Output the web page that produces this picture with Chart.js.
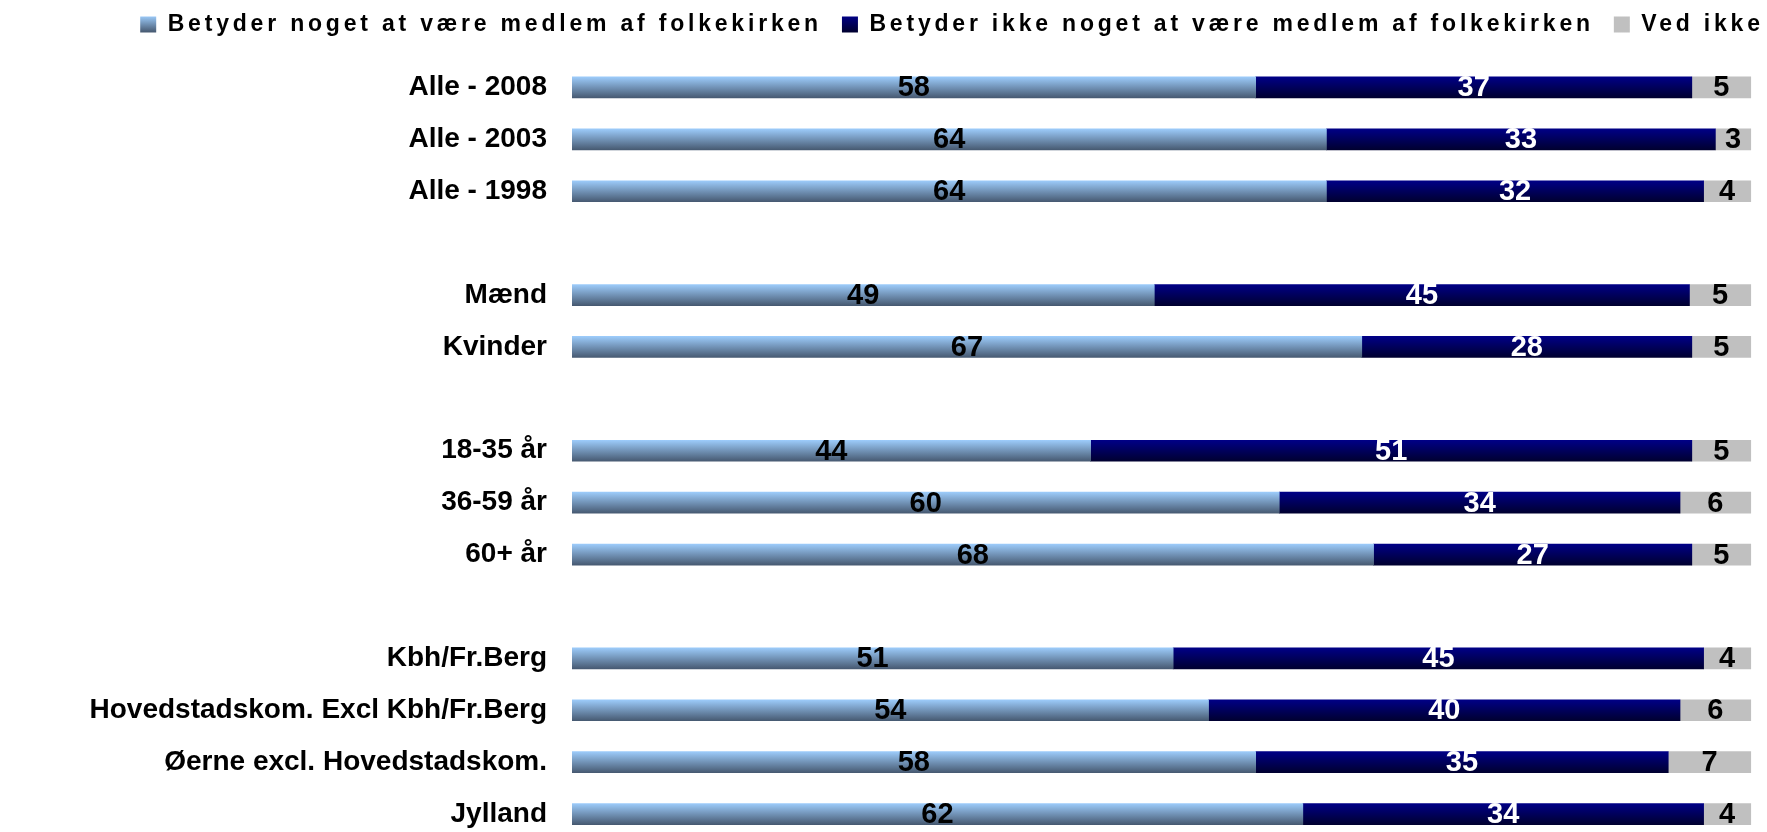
<!DOCTYPE html>
<html>
<head>
<meta charset="utf-8">
<script src="https://cdn.jsdelivr.net/npm/chart.js"></script>
<style>
  html, body { margin: 0; padding: 0; background: #fff; overflow: hidden; }
  canvas { display: block; }
</style>
</head>
<body>
<canvas id="chart" width="1904" height="840"></canvas>
<script>
// categories, blank entries are the gaps between the groups
const categories = [
  'Alle - 2008', 'Alle - 2003', 'Alle - 1998', '',
  'Mænd', 'Kvinder', '',
  '18-35 år', '36-59 år', '60+ år', '',
  'Kbh/Fr.Berg', 'Hovedstadskom. Excl Kbh/Fr.Berg', 'Øerne excl. Hovedstadskom.', 'Jylland'
];
const seriesNames = [
  'Betyder noget at være medlem af folkekirken',
  'Betyder ikke noget at være medlem af folkekirken',
  'Ved ikke'
];
const noget   = [58, 64, 64, null, 49.4, 67, null, 44, 60, 68, null, 51, 54, 58, 62];
const ikke    = [37, 33, 32, null, 45.4, 28, null, 51, 34, 27, null, 45, 40, 35, 34];
const vedIkke = [5, 3, 4, null, 5.2, 5, null, 5, 6, 5, null, 4, 6, 7, 4];

const sans = "'Liberation Sans', Arial, sans-serif";
const BAR = 21;

function barGradient(top, bottom) {
  return function (c) {
    const chart = c.chart;
    if (!chart.chartArea || c.type !== 'data') return bottom;
    const y = chart.scales.y.getPixelForValue(c.dataIndex);
    const g = chart.ctx.createLinearGradient(0, y - BAR / 2, 0, y + BAR / 2);
    g.addColorStop(0, top);
    g.addColorStop(1, bottom);
    return g;
  };
}

const legendFills = [['#9ccbfa', '#475a72'], ['#000086', '#000030'], ['#c0c0c0', '#c0c0c0']];

// legend text is spaced out in the original
const legendSpacing = {
  id: 'legendSpacing',
  beforeLayout(chart) {
    const lg = chart.legend;
    if (!lg || lg._spaced) return;
    lg._spaced = true;
    ['fit', 'draw'].forEach(fn => {
      const orig = lg[fn].bind(lg);
      lg[fn] = function () {
        chart.ctx.save();
        chart.ctx.letterSpacing = '3.8px';
        orig();
        chart.ctx.restore();
      };
    });
  }
};

const valueLabels = {
  id: 'valueLabels',
  afterDatasetsDraw(chart) {
    const ctx = chart.ctx;
    const colors = ['#000', '#fff', '#000'];
    ctx.save();
    ctx.font = 'bold 29px ' + sans;
    ctx.textAlign = 'center';
    ctx.textBaseline = 'middle';
    chart.data.datasets.forEach((ds, i) => {
      chart.getDatasetMeta(i).data.forEach((bar, j) => {
        const v = ds.data[j];
        if (v == null) return;
        ctx.fillStyle = colors[i];
        ctx.fillText(Math.round(v), (bar.x + bar.base) / 2, bar.y + 1);
      });
    });
    ctx.restore();
  }
};

new Chart(document.getElementById('chart'), {
  type: 'bar',
  data: {
    labels: categories,
    datasets: [
      { label: seriesNames[0], data: noget, backgroundColor: barGradient('#9ccbfa', '#475a72') },
      { label: seriesNames[1], data: ikke, backgroundColor: barGradient('#000086', '#000030') },
      { label: seriesNames[2], data: vedIkke, backgroundColor: '#c0c0c0' }
    ]
  },
  options: {
    indexAxis: 'y',
    responsive: false,
    animation: false,
    datasets: { bar: { barThickness: BAR, borderWidth: 0 } },
    layout: { padding: { top: -7, left: 0, right: 0, bottom: 0 } },
    plugins: {
      tooltip: { enabled: false },
      legend: {
        position: 'top',
        labels: {
          color: '#000',
          font: { family: sans, size: 23, weight: 'bold' },
          boxWidth: 16,
          boxHeight: 16,
          padding: 20,
          generateLabels(chart) {
            const items = Chart.defaults.plugins.legend.labels.generateLabels(chart);
            items.forEach((it, i) => {
              const g = chart.ctx.createLinearGradient(0, 16, 0, 32);
              g.addColorStop(0, legendFills[i][0]);
              g.addColorStop(1, legendFills[i][1]);
              it.fillStyle = g;
              it.lineWidth = 0;
              it.strokeStyle = 'rgba(0,0,0,0)';
            });
            return items;
          }
        }
      }
    },
    scales: {
      x: {
        position: 'top',
        stacked: true,
        min: 0,
        max: 113,
        ticks: { display: false },
        grid: { display: false, drawTicks: false },
        border: { display: false },
        afterFit(scale) { scale.height = 15.5; }
      },
      y: {
        stacked: true,
        ticks: {
          autoSkip: false,
          color: '#000',
          padding: 25,
          font: { family: sans, size: 28, weight: 'bold' }
        },
        grid: { display: false, drawTicks: false },
        border: { display: false },
        afterFit(scale) {
          scale.width = 572;
          scale.paddingTop = 0;
          scale.paddingBottom = 0;
        }
      }
    }
  },
  plugins: [legendSpacing, valueLabels]
});
</script>
</body>
</html>
